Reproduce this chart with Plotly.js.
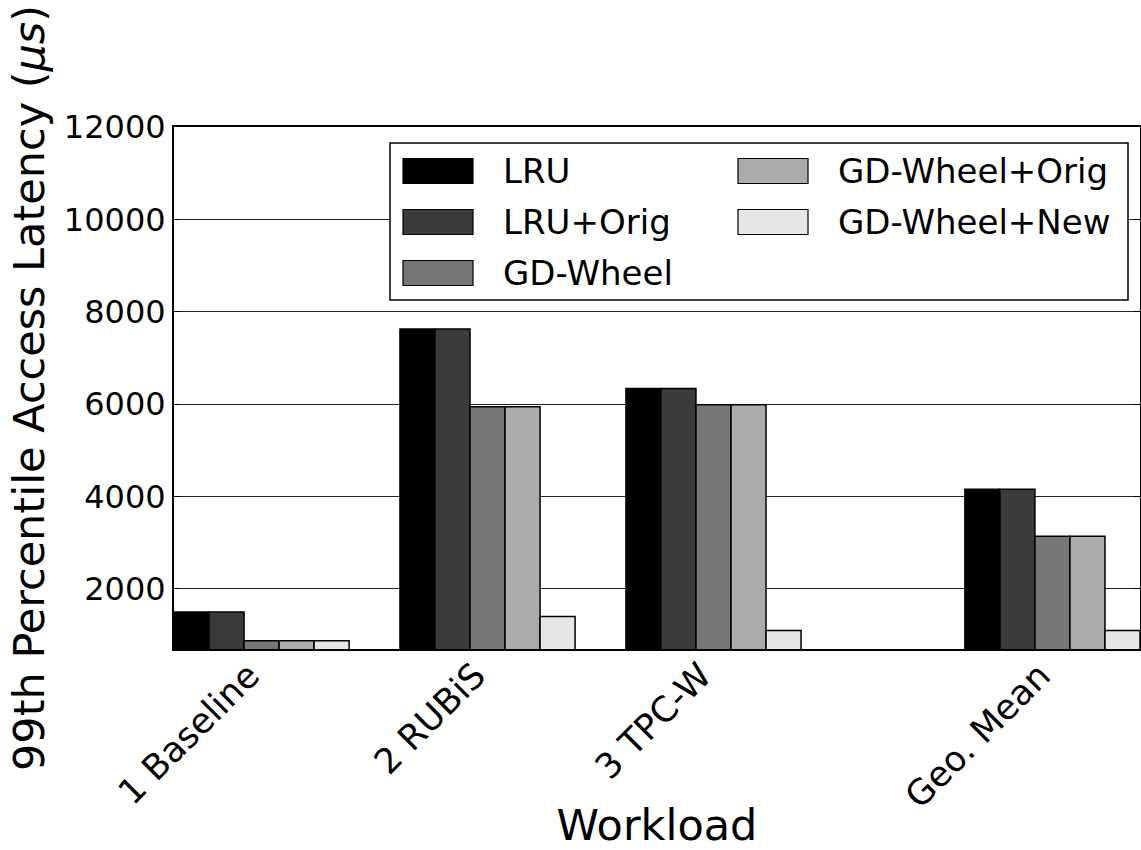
<!DOCTYPE html>
<html>
<head>
<meta charset="utf-8">
<script src="https://cdn.plot.ly/plotly-3.0.1.min.js"></script>
<style>
  html, body { margin: 0; padding: 0; background: #fff; }
  #chart { width: 1141px; height: 850px; }
</style>
</head>
<body>
<div id="chart"></div>
<script>
// Workload categories and per-policy 99th percentile latency (microseconds)
const categories = ['1 Baseline', '2 RUBiS', '3 TPC-W', 'Geo. Mean'];
const seriesNames = ['LRU', 'LRU+Orig', 'GD-Wheel', 'GD-Wheel+Orig', 'GD-Wheel+New'];
const lru         = [1500, 7625, 6340, 4160];
const lruOrig     = [1500, 7625, 6340, 4160];
const gdWheel     = [880, 5945, 5985, 3140];
const gdWheelOrig = [880, 5945, 5985, 3140];
const gdWheelNew  = [880, 1405, 1100, 1100];
const yTickValues = [2000, 4000, 6000, 8000, 10000, 12000];

const seriesValues = [lru, lruOrig, gdWheel, gdWheelOrig, gdWheelNew];

// Styling and placement
const FONT = 'DejaVu Sans, Bitstream Vera Sans, sans-serif';
const fills = ['#000000', '#3b3b3b', '#767676', '#ababab', '#e6e6e6'];
const groupStart = [0, 1, 2, 3.5];   // left edge of each bar group
const barW = 0.155;
const nSeries = seriesNames.length;
const groupCenters = groupStart.map(g => g + barW * nSeries / 2);
const xRange = [0, groupStart[groupStart.length - 1] + barW * nSeries];
// rotated labels sit with their upper-right corner at the group centre
const labelShift = 0.055;
const labelPositions = groupCenters.map(c => c - labelShift);

const traces = seriesValues.map((vals, k) => ({
  type: 'bar',
  name: seriesNames[k],
  x: groupStart.map(g => g + (k + 0.5) * barW),
  y: vals,
  width: barW,
  marker: { color: fills[k], line: { color: '#000000', width: 1.5 } },
  showlegend: false,
  hoverinfo: 'skip'
}));

// Plot-area pixel frame, used to place the legend box in paper units
const PL = 174, PR = 1140, PT = 127, PB = 649;
const px = x => (x - PL) / (PR - PL);
const py = y => (PB - y) / (PB - PT);

const shapes = [{
  type: 'rect', xref: 'paper', yref: 'paper',
  x0: px(390), x1: px(1128), y0: py(300), y1: py(143),
  line: { color: '#000000', width: 1.5 }, fillcolor: '#ffffff', layer: 'above'
}];
const annotations = [];
const colSwatchX = [403, 738];
const colTextX = [501, 836];
const rowTop = [158.5, 209.5, 260.5];
const swW = 70, swH = 25;
seriesNames.forEach((name, k) => {
  const col = k < 3 ? 0 : 1;
  const row = k < 3 ? k : k - 3;
  const top = rowTop[row];
  shapes.push({
    type: 'rect', xref: 'paper', yref: 'paper',
    x0: px(colSwatchX[col]), x1: px(colSwatchX[col] + swW),
    y0: py(top + swH), y1: py(top),
    line: { color: '#000000', width: 1.2 }, fillcolor: fills[k], layer: 'above'
  });
  annotations.push({
    xref: 'paper', yref: 'paper',
    x: px(colTextX[col]), y: py(top + swH / 2),
    xanchor: 'left', yanchor: 'middle', showarrow: false,
    text: name, font: { family: FONT, size: 34, color: '#000000' }
  });
});

const layout = {
  width: 1141, height: 850,
  margin: { l: PL, r: 1141 - PR, t: PT, b: 850 - PB, pad: 0 },
  paper_bgcolor: '#ffffff', plot_bgcolor: '#ffffff',
  font: { family: FONT, color: '#000000' },
  barmode: 'overlay',
  showlegend: false,
  xaxis: {
    range: xRange,
    tickmode: 'array', tickvals: labelPositions, ticktext: categories,
    tickangle: -45, ticks: '',
    tickfont: { family: FONT, size: 35, color: '#000000' },
    ticklabelstandoff: -10,
    showline: true, linecolor: '#000000', linewidth: 2, mirror: true,
    showgrid: false, zeroline: false, fixedrange: true,
    title: { text: 'Workload', font: { family: FONT, size: 43, color: '#000000' }, standoff: 6 }
  },
  xaxis2: {
    overlaying: 'x', side: 'top', anchor: 'y',
    range: xRange,
    tickmode: 'array', tickvals: groupCenters,
    ticks: 'inside', ticklen: 6, tickwidth: 1, tickcolor: '#000000',
    showticklabels: false, showline: false, showgrid: false, zeroline: false
  },
  yaxis: {
    range: [700, 12000],
    tickmode: 'array', tickvals: yTickValues, tickformat: 'd',
    ticks: 'inside', ticklen: 6, tickwidth: 1, tickcolor: '#000000',
    tickfont: { family: FONT, size: 32, color: '#000000' },
    ticklabelstandoff: 0,
    showline: true, linecolor: '#000000', linewidth: 2, mirror: 'ticks',
    showgrid: true, gridcolor: '#222222', gridwidth: 1,
    zeroline: false, fixedrange: true,
    title: {
      text: '99th Percentile Access Latency (<i>μs</i>)',
      font: { family: FONT, size: 43, color: '#000000' }, standoff: 6
    }
  },
  shapes: shapes,
  annotations: annotations
};

Plotly.newPlot('chart', traces, layout, { staticPlot: true, displayModeBar: false });
</script>
</body>
</html>
